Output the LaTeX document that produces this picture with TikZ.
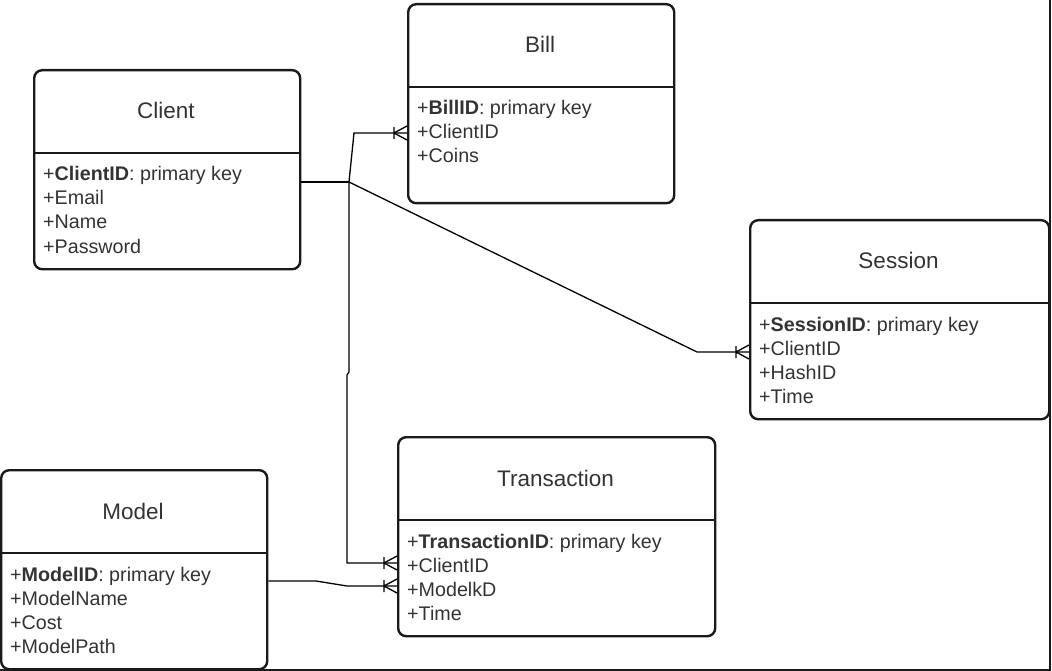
\documentclass[tikz,border=0pt]{standalone}
\usepackage{fontspec}
\setmainfont{Liberation Sans}
\usetikzlibrary{calc, decorations.markings}
\definecolor{inkdark}{RGB}{26,26,26}
\definecolor{txtgray}{RGB}{51,51,51}

\tikzset{
  entity/.style={draw=inkdark, line width=2.4pt, rounded corners=8pt, inner sep=0pt, anchor=north west, minimum height=199pt},
  sepline/.style={draw=inkdark, line width=2.4pt},
  title/.style={anchor=base, inner sep=0pt, text=txtgray, font=\fontsize{22.5}{27}\selectfont},
  attr/.style={anchor=base west, inner sep=0pt, text=txtgray, font=\fontsize{19.7}{24}\selectfont},
  rel/.style={draw=black, line width=1.3pt},
  trunk/.style={draw=black, line width=2.6pt},
  crowfoot/.style={postaction={decorate, decoration={markings, mark=at position 1 with {\draw[line width=1.3pt] (-13,-6) -- (-13,6) (-13,0) -- (0,7) (-13,0) -- (0,-7);}}}}
}

\begin{document}
\begin{tikzpicture}[x=1pt, y=-1pt]
    \useasboundingbox (0,0) rectangle (1052,671);

    % Client
    \begin{scope}[shift={(33,69)}]
        \node[entity, minimum width=266pt] (client) at (0,0) {};
        \draw[sepline] (0,84) -- (266,84);
        \node[title] (client-t) at (133,50) {Client};
        \foreach \a [count=\i] in {{\textbf{ClientID}: primary key}, Email, Name, Password}
            \node[attr] (client-\i) at (10,{88+24*\i}) {+\a};
    \end{scope}

    % Bill
    \begin{scope}[shift={(407,3)}]
        \node[entity, minimum width=266pt] (bill) at (0,0) {};
        \draw[sepline] (0,84) -- (266,84);
        \node[title] (bill-t) at (133,50) {Bill};
        \foreach \a [count=\i] in {{\textbf{BillID}: primary key}, ClientID, Coins}
            \node[attr] (bill-\i) at (10,{88+24*\i}) {+\a};
    \end{scope}

    % Session
    \begin{scope}[shift={(749,219)}]
        \node[entity, minimum width=299pt] (session) at (0,0) {};
        \draw[sepline] (0,84) -- (299,84);
        \node[title] (session-t) at (149.5,50) {Session};
        \foreach \a [count=\i] in {{\textbf{SessionID}: primary key}, ClientID, HashID, Time}
            \node[attr] (session-\i) at (10,{88+24*\i}) {+\a};
    \end{scope}

    % Transaction
    \begin{scope}[shift={(397,436)}]
        \node[entity, minimum width=317pt] (transaction) at (0,0) {};
        \draw[sepline] (0,84) -- (317,84);
        \node[title] (transaction-t) at (158.5,50) {Transaction};
        \foreach \a [count=\i] in {{\textbf{TransactionID}: primary key}, ClientID, ModelkD, Time}
            \node[attr] (transaction-\i) at (10,{88+24*\i}) {+\a};
    \end{scope}

    % Model
    \begin{scope}[shift={(0,469)}]
        \node[entity, minimum width=266pt] (model) at (0,0) {};
        \draw[sepline] (0,84) -- (266,84);
        \node[title] (model-t) at (133,50) {Model};
        \foreach \a [count=\i] in {{\textbf{ModelID}: primary key}, ModelName, Cost, ModelPath}
            \node[attr] (model-\i) at (10,{88+24*\i}) {+\a};
    \end{scope}

    % relations
    \coordinate (jct) at (349,182);
    \draw[trunk] (client.east |- jct) -- (jct);
    \draw[rel, crowfoot] (jct) -- (354,133) -- (bill.west |- 0,133);
    \draw[rel, crowfoot] (jct) -- (697,352) -- (session.west |- 0,352);
    \draw[rel, crowfoot] (jct) -- (349,372) -- (347,375) -- (347,563) -- (transaction.west |- 0,563);
    \draw[rel, crowfoot] (model.east |- 0,581) -- (316,581) -- (347,586) -- (transaction.west |- 0,586);

    % frame
    \draw[draw=inkdark, line width=2pt] (1050,0) -- (1050,670) -- (0,670);
\end{tikzpicture}
\end{document}
